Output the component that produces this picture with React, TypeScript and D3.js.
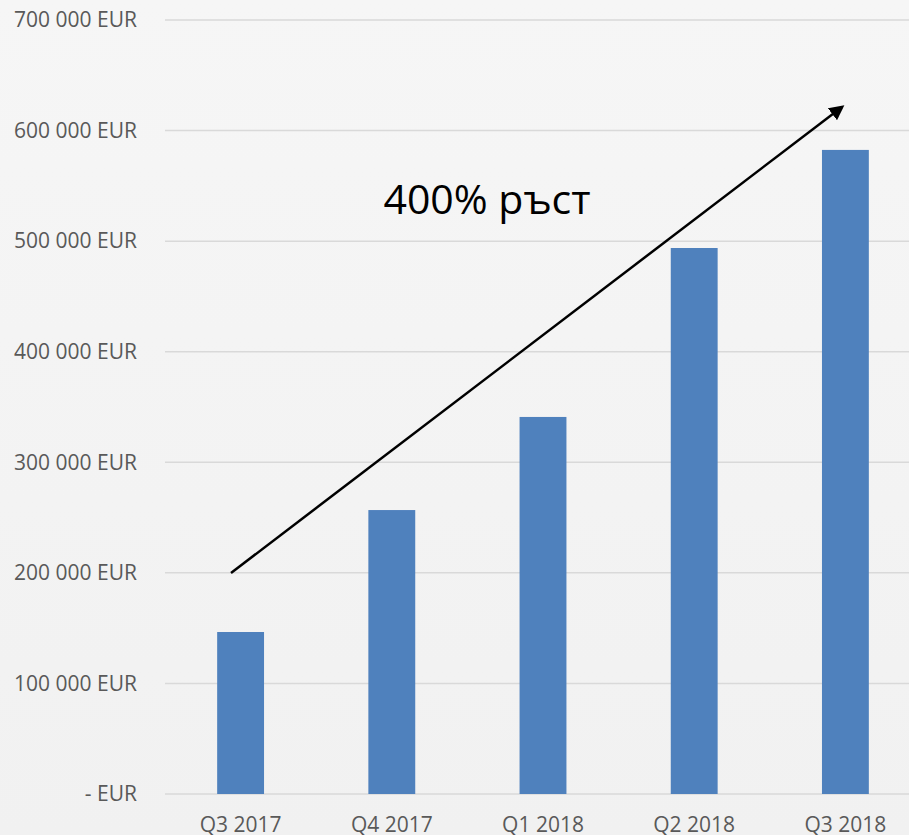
import React, { useEffect, useRef } from "react";
import * as d3 from "d3";

const quarters = ["Q3 2017", "Q4 2017", "Q1 2018", "Q2 2018", "Q3 2018"];
const revenue = [146500, 256800, 341000, 493800, 582500];
const yTicks = [0, 100000, 200000, 300000, 400000, 500000, 600000, 700000];
const growthLabel = "400% ръст";

const W = 909;
const H = 835;

const fmtEur = (v: number) =>
  v === 0 ? "- EUR" : d3.format(",")(v).replace(/,/g, " ") + " EUR";

const App = () => {
  const svgRef = useRef<SVGSVGElement>(null);

  useEffect(() => {
    document.body.style.margin = "0";
    document.body.style.overflow = "hidden";

    const svg = d3.select(svgRef.current);
    svg.selectAll("*").remove();

    const margin = { top: 20, right: -12, bottom: 41, left: 165 };

    const defs = svg.append("defs");
    const bg = defs.append("linearGradient")
      .attr("id", "bg")
      .attr("x1", "0%").attr("y1", "0%")
      .attr("x2", "0%").attr("y2", "100%");
    bg.append("stop").attr("offset", "0%").attr("stop-color", "#f6f6f6");
    bg.append("stop").attr("offset", "100%").attr("stop-color", "#f1f1f1");

    defs.append("marker")
      .attr("id", "arrowhead")
      .attr("viewBox", "0 0 10 10")
      .attr("refX", 8)
      .attr("refY", 5)
      .attr("markerWidth", 6)
      .attr("markerHeight", 6)
      .attr("markerUnits", "strokeWidth")
      .attr("orient", "auto")
      .append("path")
      .attr("d", "M0,0 L10,5 L0,10 z")
      .attr("fill", "#000");

    svg.append("rect")
      .attr("width", W)
      .attr("height", H)
      .attr("fill", "url(#bg)");

    const x = d3.scaleBand()
      .domain(quarters)
      .range([margin.left, W - margin.right])
      .paddingInner(0.69)
      .paddingOuter(0.345);

    const y = d3.scaleLinear()
      .domain([0, 700000])
      .range([H - margin.bottom, margin.top]);

    // gridlines
    svg.append("g")
      .selectAll("line")
      .data(yTicks)
      .enter().append("line")
      .attr("x1", margin.left)
      .attr("x2", W)
      .attr("y1", d => y(d))
      .attr("y2", d => y(d))
      .attr("stroke", "#d9d9d9")
      .attr("stroke-width", 1.5);

    // y labels
    svg.append("g")
      .selectAll("text")
      .data(yTicks)
      .enter().append("text")
      .attr("x", 137)
      .attr("y", d => y(d))
      .attr("dy", "0.35em")
      .attr("text-anchor", "end")
      .attr("font-family", "'Open Sans', sans-serif")
      .attr("font-size", "21px")
      .attr("fill", "#595959")
      .text(d => fmtEur(d));

    // bars
    svg.append("g")
      .selectAll("rect")
      .data(revenue)
      .enter().append("rect")
      .attr("x", (d, i) => x(quarters[i])!)
      .attr("y", d => y(d))
      .attr("width", x.bandwidth())
      .attr("height", d => y(0) - y(d))
      .attr("fill", "#4f81bd");

    // x labels
    svg.append("g")
      .selectAll("text")
      .data(quarters)
      .enter().append("text")
      .attr("x", d => x(d)! + x.bandwidth() / 2)
      .attr("y", 832)
      .attr("text-anchor", "middle")
      .attr("font-family", "'Open Sans', sans-serif")
      .attr("font-size", "21px")
      .attr("fill", "#595959")
      .text(d => d);

    // growth arrow
    svg.append("line")
      .attr("x1", 231)
      .attr("y1", 573)
      .attr("x2", 842)
      .attr("y2", 107)
      .attr("stroke", "#000")
      .attr("stroke-width", 2.5)
      .attr("marker-end", "url(#arrowhead)");

    svg.append("text")
      .attr("x", 487)
      .attr("y", 214)
      .attr("text-anchor", "middle")
      .attr("font-family", "'Open Sans', sans-serif")
      .attr("font-size", "41px")
      .attr("fill", "#000")
      .text(growthLabel);
  }, []);

  return (
    <div style={{ position: "fixed", left: 0, top: 0 }}>
      <svg ref={svgRef} width={W} height={H} style={{ display: "block" }} />
    </div>
  );
};

export default App;
